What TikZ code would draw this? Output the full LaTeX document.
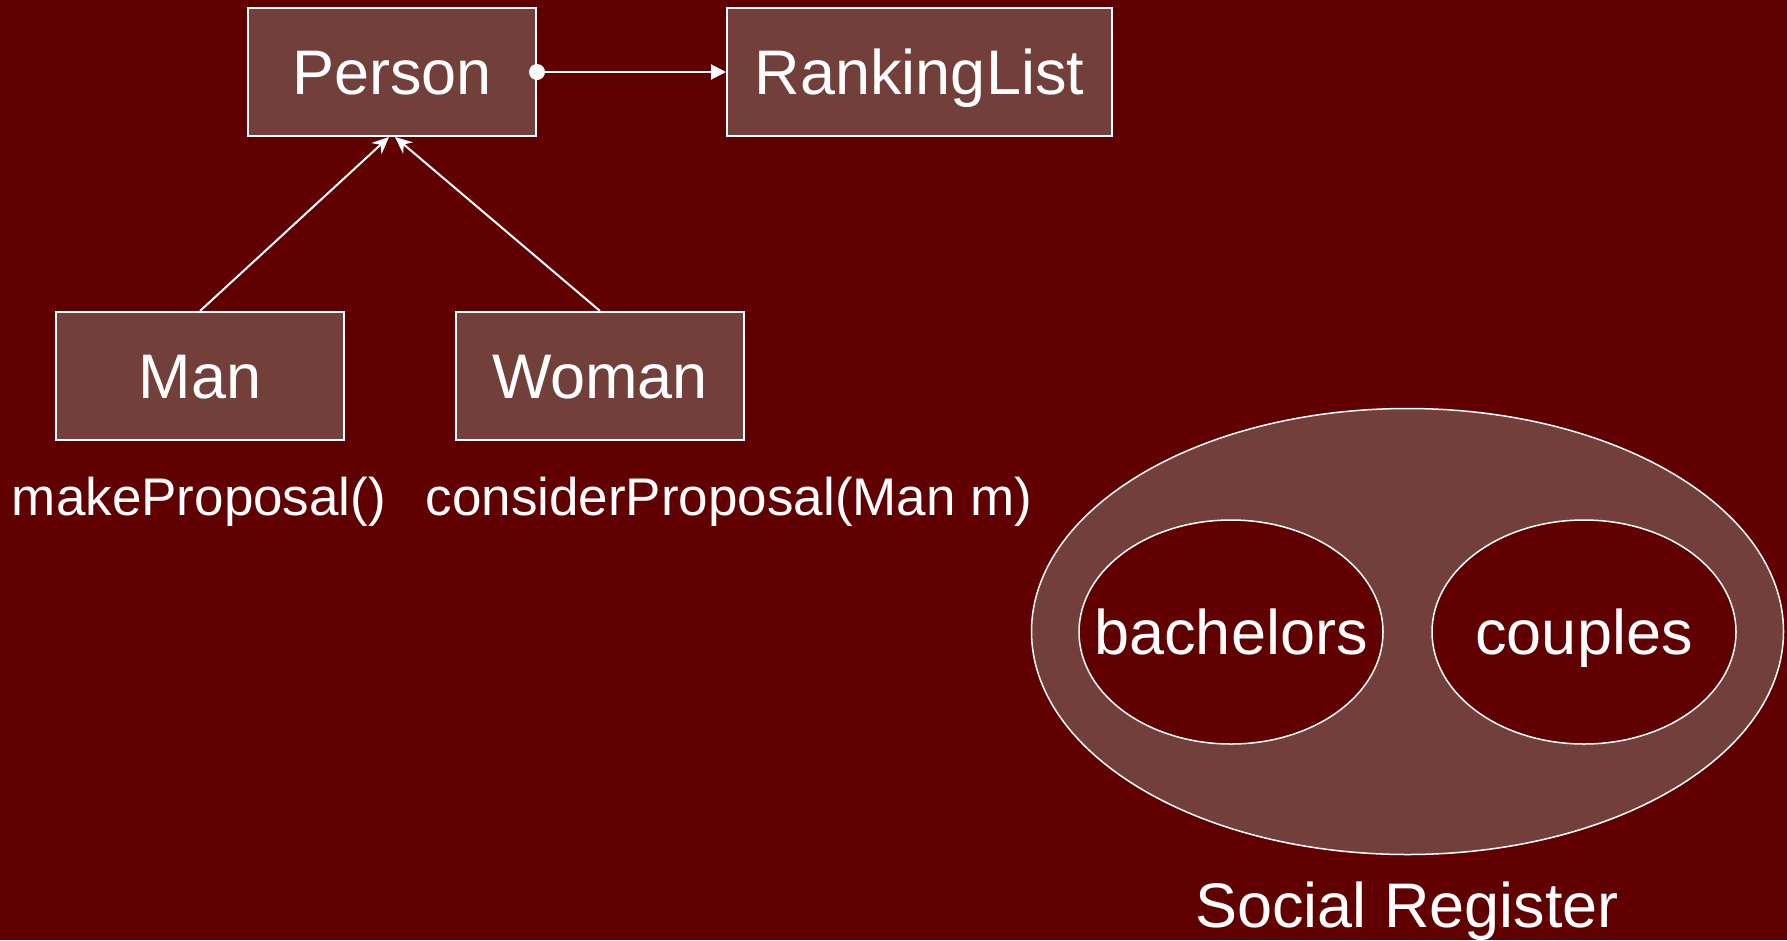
\documentclass[tikz,border=0pt]{standalone}
\usepackage{fontspec}
\setmainfont{Liberation Sans}
\usetikzlibrary{arrows.meta,positioning,shapes.geometric}
\definecolor{slidered}{RGB}{96,0,0}
\definecolor{classfill}{RGB}{114,63,59}
\newcommand{\bigtxt}{\fontsize{63}{76}\selectfont}
\newcommand{\smalltxt}{\fontsize{53}{64}\selectfont}

\begin{document}
\begin{tikzpicture}[x=1pt,y=-1pt,
		classbox/.style={draw=white,line width=2pt,fill=classfill,text=white,
			minimum height=128pt,minimum width=288pt,inner sep=0pt,font=\bigtxt,
			text height=45pt,text depth=0pt},
		setoval/.style={ellipse,draw=white,line width=1.5pt,inner sep=0pt,
			label={[text=white,font=\bigtxt,inner sep=0pt,text height=45pt,text depth=0pt]center:#1}},
		link/.style={draw=white,line width=2pt},
		method/.style={text=white,font=\smalltxt,inner sep=0pt}]
		\fill[slidered] (0,0) rectangle (1787,940);
		\useasboundingbox (0,0) rectangle (1787,940);
		% classes
		\node[classbox] (person) at (392,72) {Person};
		\node[classbox,minimum width=385pt] (ranking) at (919.5,72) {RankingList};
		\node[classbox] (man) at (200,376) {Man};
		\node[classbox] (woman) at (600,376) {Woman};
		\node[method] (makeprop) at (199,502) {makeProposal()};
		\node[method] (considerprop) at (729,502) {considerProposal(Man m)};
		% links
		\draw[link,-{Triangle[length=15pt,width=15pt]}] (person.east) -- (ranking.west);
		\fill[white] (person.east) circle [radius=8pt];
		\draw[link,-{Stealth[length=17pt,width=15pt]}] (man.north) -- ([xshift=-3pt]person.south);
		\draw[link,-{Stealth[length=17pt,width=15pt]}] (woman.north) -- ([xshift=3pt]person.south);
		% social register
		\node[setoval={},fill=classfill,minimum width=752pt,minimum height=446pt] (register) at (1407.5,631.5) {};
		\node[setoval=bachelors,fill=slidered,minimum width=304pt,minimum height=224pt] (bachelors) at (1231,632) {};
		\node[setoval=couples,fill=slidered,minimum width=304pt,minimum height=224pt] (couples) at (1584,632) {};
		\node[text=white,font=\bigtxt,inner sep=0pt] (reglabel) at (1407,911) {Social Register};
\end{tikzpicture}
\end{document}
